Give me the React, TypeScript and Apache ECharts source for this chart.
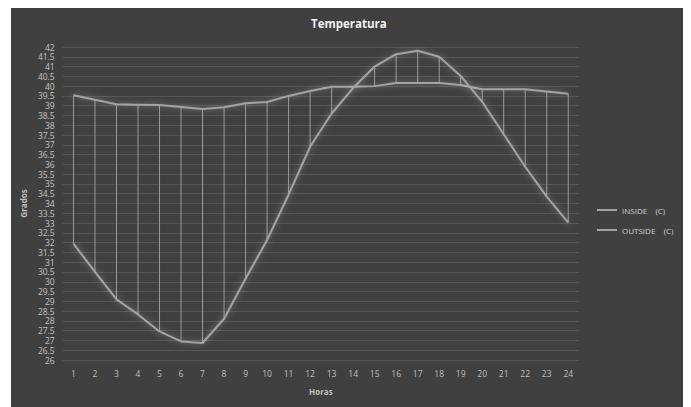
import React, { useEffect, useRef } from "react";
import * as echarts from "echarts";

const hours = ["1","2","3","4","5","6","7","8","9","10","11","12","13","14","15","16","17","18","19","20","21","22","23","24"];
const insideValues = [39.53, 39.3, 39.07, 39.05, 39.03, 38.93, 38.83, 38.92, 39.12, 39.19, 39.5, 39.75, 39.97, 39.97, 40.0, 40.16, 40.16, 40.16, 40.06, 39.84, 39.84, 39.84, 39.73, 39.61];
const outsideValues = [31.95, 30.5, 29.1, 28.33, 27.46, 26.95, 26.87, 28.11, 30.15, 32.13, 34.45, 36.9, 38.6, 39.9, 41.0, 41.63, 41.81, 41.5, 40.52, 39.2, 37.54, 35.88, 34.35, 33.02];
const seriesNames = ["INSIDE    (C)", "OUTSIDE    (C)"];

const FONT = "'Open Sans', sans-serif";
const LINE = "#a3a3a3";

export default function App() {
  const ref = useRef<HTMLDivElement>(null);
  useEffect(() => {
    if (!ref.current) return;
    const chart = echarts.init(ref.current, undefined, { renderer: "svg" });
    const dropData = hours.map((_, i) => [i, insideValues[i], outsideValues[i]]);
    chart.setOption({
      animation: false,
      backgroundColor: "#404040",
      textStyle: { fontFamily: FONT },
      title: {
        text: "Temperatura",
        left: 295,
        top: 4,
        textStyle: { color: "#f2f2f2", fontSize: 11.5, fontWeight: "bold", fontFamily: FONT },
      },
      legend: {
        data: seriesNames,
        orient: "vertical",
        left: 581,
        top: 193,
        icon: "rect",
        itemWidth: 20,
        itemHeight: 2,
        itemGap: 12,
        textStyle: { color: "#d0d0d0", fontSize: 8, fontFamily: FONT },
      },
      grid: { left: 49, top: 39, width: 519, height: 313, containLabel: false },
      xAxis: {
        type: "category",
        data: hours,
        boundaryGap: true,
        name: "Horas",
        nameLocation: "middle",
        nameGap: 27,
        nameTextStyle: { color: "#bfbfbf", fontSize: 8, fontWeight: "bold", fontFamily: FONT },
        axisLine: { show: false },
        axisTick: { show: false },
        axisLabel: { color: "#bfbfbf", fontSize: 8.5, margin: 9, fontFamily: FONT },
        splitLine: { show: false },
      },
      yAxis: {
        type: "value",
        min: 26,
        max: 42,
        interval: 0.5,
        name: "Grados",
        nameLocation: "middle",
        nameGap: 31,
        nameRotate: 90,
        nameTextStyle: { color: "#bfbfbf", fontSize: 8, fontWeight: "bold", fontFamily: FONT },
        axisLine: { show: false },
        axisTick: { show: false },
        axisLabel: { color: "#c4c4c4", fontSize: 8.5, margin: 8, fontFamily: FONT },
        splitLine: { show: true, lineStyle: { color: "#565656", width: 1 } },
      },
      series: [
        {
          type: "custom",
          name: "drop",
          silent: true,
          z: 1,
          data: dropData,
          renderItem: (params: any, api: any) => {
            const a = api.coord([api.value(0), api.value(1)]);
            const b = api.coord([api.value(0), api.value(2)]);
            return {
              type: "line",
              shape: { x1: a[0], y1: a[1], x2: b[0], y2: b[1] },
              style: { stroke: "#9a9a9a", lineWidth: 1 },
            };
          },
        },
        {
          type: "line",
          name: seriesNames[0],
          data: insideValues,
          symbol: "none",
          z: 3,
          lineStyle: { color: LINE, width: 2, shadowBlur: 6, shadowColor: "rgba(255,255,255,0.35)" },
          itemStyle: { color: LINE },
        },
        {
          type: "line",
          name: seriesNames[1],
          data: outsideValues,
          symbol: "none",
          z: 3,
          lineStyle: { color: LINE, width: 2, shadowBlur: 6, shadowColor: "rgba(255,255,255,0.35)" },
          itemStyle: { color: LINE },
        },
      ],
    });
    return () => chart.dispose();
  }, []);
  return <div ref={ref} style={{ width: 680, height: 399, marginLeft: 3 }} />;
}
